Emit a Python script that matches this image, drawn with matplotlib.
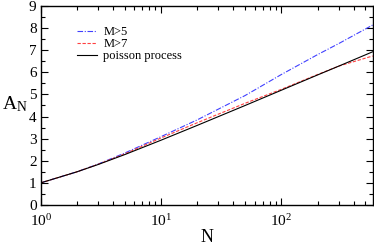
import matplotlib
matplotlib.use("Agg")
import matplotlib.pyplot as plt
from matplotlib.ticker import LogLocator, MultipleLocator, NullFormatter

plt.rcParams['font.family'] = ['Liberation Serif', 'DejaVu Serif']
plt.rcParams['mathtext.fontset'] = 'custom'
plt.rcParams['mathtext.rm'] = 'Liberation Serif'
plt.rcParams['mathtext.it'] = 'Liberation Serif'

# Data
N_vals = [1, 2, 3, 5, 10, 20, 50, 100, 200, 300, 575]
m5 = [1.0, 1.5, 1.85, 2.35, 3.09, 3.85, 4.95, 5.9, 6.8, 7.3, 8.14]
m7 = [1.0, 1.5, 1.84, 2.31, 3.03, 3.72, 4.6, 5.23, 5.9, 6.28, 6.74]
poisson = [1.0, 1.5, 1.83, 2.28, 2.93, 3.6, 4.5, 5.19, 5.88, 6.28, 6.93]

labels = ['M>5', 'M>7', 'poisson process']

fig = plt.figure(figsize=(3.74, 2.45), dpi=100)
ax = fig.add_axes([0.1088, 0.1633, 0.8877, 0.8122])

ax.plot(N_vals, m5, color='#4040ff', lw=0.8, dashes=[5, 1.5, 1, 1.5], label=labels[0])
ax.plot(N_vals, m7, color='#ff4040', lw=0.8, dashes=[3, 1.5], label=labels[1])
ax.plot(N_vals, poisson, color='black', lw=0.8, label=labels[2])

ax.set_xscale('log')
ax.set_xlim(1, 575)
ax.set_ylim(0, 9)
ax.yaxis.set_major_locator(MultipleLocator(1))
ax.yaxis.set_minor_locator(MultipleLocator(0.5))
ax.xaxis.set_major_locator(LogLocator(base=10))
ax.xaxis.set_minor_locator(LogLocator(base=10, subs=range(2, 10)))
ax.xaxis.set_minor_formatter(NullFormatter())

ax.tick_params(which='both', direction='in', top=True, right=True, labelsize=11, width=0.8)
ax.tick_params(which='major', length=5, pad=3)
ax.tick_params(axis='x', which='major', pad=5.5)
ax.tick_params(which='minor', length=3)
for s in ax.spines.values():
    s.set_linewidth(1.0)

ax.set_xlabel('N', fontsize=13, labelpad=0)
fig.text(0.040, 0.575, r'$\mathrm{A_N}$', fontsize=14, ha='center', va='center')

leg = ax.legend(loc='upper left', bbox_to_anchor=(0.095, 0.925), frameon=False, fontsize=9,
                handlelength=1.6, handletextpad=0.5, labelspacing=0.0, borderaxespad=0)

fig.savefig('out.png', dpi=100)
